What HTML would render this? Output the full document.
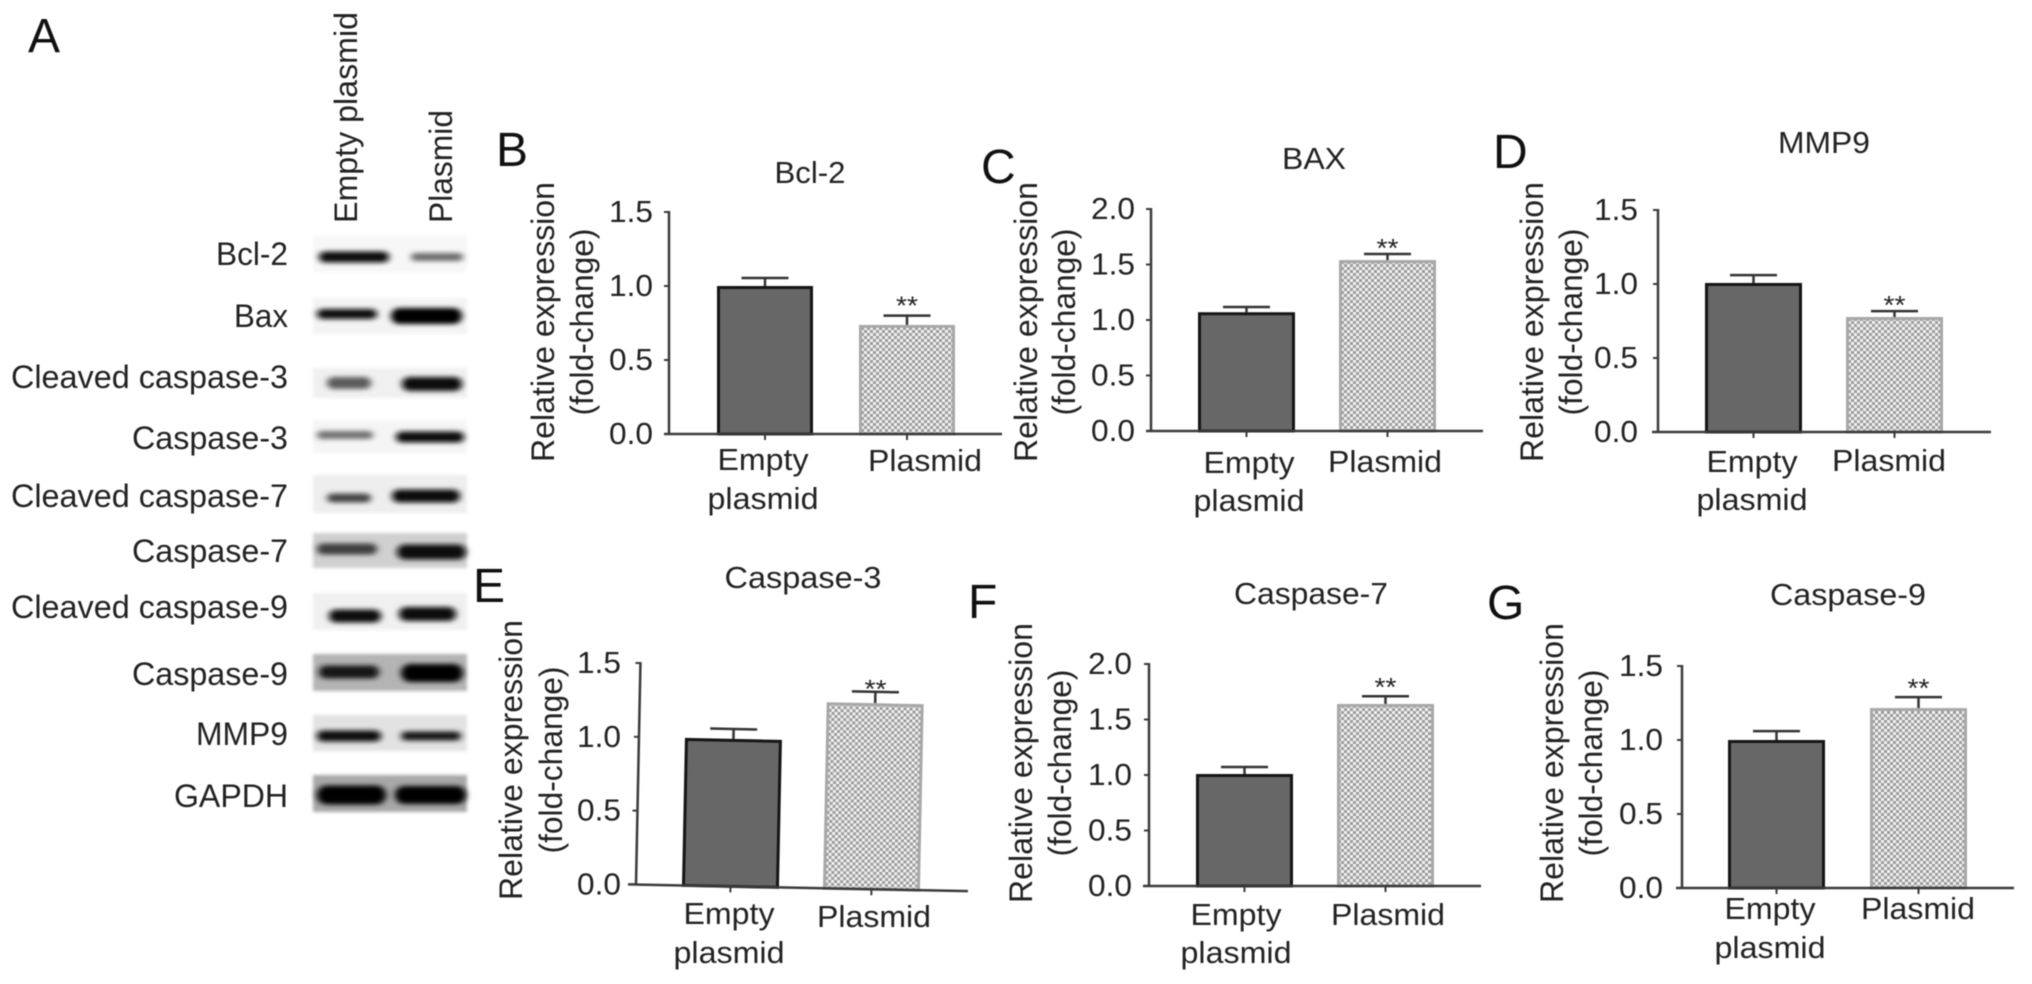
<!DOCTYPE html>
<html lang="en">
<head>
<meta charset="utf-8">
<title>Western blot and relative expression panels</title>
<style>
html,body{margin:0;padding:0;background:#fff;width:2032px;height:984px;overflow:hidden}
svg{display:block;filter:blur(0.55px)}
text{font-family:"Liberation Sans",Arial,sans-serif;fill:#222}
</style>
</head>
<body>
<svg id="fig" xmlns="http://www.w3.org/2000/svg" width="2032" height="984" viewBox="0 0 2032 984">
  <defs>
    <pattern id="checker" width="6" height="6" patternUnits="userSpaceOnUse">
      <rect width="6" height="6" fill="#f2f2f2"/>
      <rect width="3" height="3" fill="#9c9c9c"/>
      <rect x="3" y="3" width="3" height="3" fill="#9c9c9c"/>
    </pattern>
    <filter id="bandBlur" x="-30%" y="-200%" width="160%" height="500%"><feGaussianBlur stdDeviation="3.4 2.4"/></filter>
    <filter id="boxBlur" x="-5%" y="-20%" width="110%" height="140%"><feGaussianBlur stdDeviation="1.6"/></filter>
  </defs>
  <text x="28" y="52" font-size="48" style="fill:#111">A</text>
  <g id="blot"></g>
  <g id="charts"></g>
</svg>
<script>
// ---------- chart data ----------
const categories = ['Empty', 'Plasmid'];
const categorySecondLine = 'plasmid';
const chartTitles = ['Bcl-2', 'BAX', 'MMP9', 'Caspase-3', 'Caspase-7', 'Caspase-9'];
const panelLetters = ['B', 'C', 'D', 'E', 'F', 'G'];
const meanBcl2 = [1.0, 0.737];
const meanBax = [1.07, 1.54];
const meanMmp9 = [1.007, 0.777];
const meanCaspase3 = [0.999, 1.26];
const meanCaspase7 = [1.009, 1.64];
const meanCaspase9 = [1.0, 1.216];
const errorTopBcl2 = [1.054, 0.80];
const errorTopBax = [1.117, 1.595];
const errorTopMmp9 = [1.06, 0.817];
const errorTopCaspase3 = [1.066, 1.337];
const errorTopCaspase7 = [1.072, 1.71];
const errorTopCaspase9 = [1.06, 1.29];
const ticksTo15 = ['0.0', '0.5', '1.0', '1.5'];
const ticksTo20 = ['0.0', '0.5', '1.0', '1.5', '2.0'];
const significance = '**';
const yTitleLine1 = 'Relative expression';
const yTitleLine2 = '(fold-change)';
const allMeans = [meanBcl2, meanBax, meanMmp9, meanCaspase3, meanCaspase7, meanCaspase9];
const allErrorTops = [errorTopBcl2, errorTopBax, errorTopMmp9, errorTopCaspase3, errorTopCaspase7, errorTopCaspase9];
const allTicks = [ticksTo15, ticksTo20, ticksTo15, ticksTo15, ticksTo20, ticksTo15];

// ---------- panel layout ----------
const panelLayouts = [
  {lx:496, ly:166, ax:669, top:212, bot:434, xs:664, xe:1002, bx:717, step:142, bw:96, tx:810, ty:183, tw:71, y1:554, y2:593, ym:322, tr:653, c1:763, c2:925, cy1:470, cy2:471, c3y:509, sg:16, tilt:0},
  {lx:981, ly:183, ax:1151, top:209, bot:431, xs:1146, xe:1483, bx:1198, step:141, bw:97, tx:1314, ty:169, tw:64, y1:1037, y2:1075, ym:322, tr:1135, c1:1249, c2:1385, cy1:473, cy2:472, c3y:511, sg:12, tilt:0},
  {lx:1493, ly:168, ax:1658, top:210, bot:432, xs:1652, xe:1991, bx:1705, step:141, bw:97, tx:1824, ty:153, tw:92, y1:1543, y2:1582, ym:322, tr:1638, c1:1752, c2:1889, cy1:472, cy2:471, c3y:510, sg:12, tilt:0},
  {lx:473, ly:602, ax:636, top:663, bot:884.5, xs:628, xe:968, bx:682, step:141, bw:97, tx:803, ty:588, tw:157, y1:522, y2:562, ym:760, tr:621, c1:729, c2:874, cy1:924, cy2:927, c3y:963, sg:9, tilt:1.15},
  {lx:968, ly:618, ax:1149, top:664, bot:886, xs:1143, xe:1481, bx:1196, step:141, bw:97, tx:1311, ty:604, tw:154, y1:1032, y2:1071, ym:763, tr:1132, c1:1236, c2:1388, cy1:925, cy2:925, c3y:963, sg:15, tilt:0},
  {lx:1487, ly:619, ax:1682, top:666, bot:888, xs:1676, xe:2014, bx:1728, step:142, bw:97, tx:1848, ty:605, tw:156, y1:1563, y2:1602, ym:763, tr:1663, c1:1770, c2:1918, cy1:919, cy2:919, c3y:958, sg:15, tilt:0}
];

// ---------- helpers ----------
const NS = 'http://www.w3.org/2000/svg';
function make(tag, parent, attrs) {
  const node = document.createElementNS(NS, tag);
  for (const k in attrs) node.setAttribute(k, attrs[k]);
  parent.appendChild(node);
  return node;
}
function makeText(parent, str, x, y, size, anchor, width, rotated) {
  const attrs = {x: x, y: y, 'font-size': size, 'text-anchor': anchor};
  if (width) { attrs.textLength = width; attrs.lengthAdjust = 'spacingAndGlyphs'; }
  if (rotated) attrs.transform = 'rotate(-90 ' + x + ' ' + y + ')';
  const t = make('text', parent, attrs);
  t.textContent = str;
  return t;
}
function yScale(layout, ticks, value) {
  const max = parseFloat(ticks[ticks.length - 1]);
  return layout.bot - (value / max) * (layout.bot - layout.top);
}
function xBand(layout, index) {
  return layout.bx + index * layout.step;
}

// ---------- charts ----------
const chartsRoot = document.getElementById('charts');
panelLayouts.forEach(function (p, i) {
  const key = chartTitles[i].toLowerCase();
  const ticks = allTicks[i];
  const panel = make('g', chartsRoot, {});
  
  

  const letter = makeText(panel, panelLetters[i], p.lx, p.ly, 48, 'start');
  letter.setAttribute('style', 'fill:#111');
  
  

  const title = makeText(panel, chartTitles[i], p.tx, p.ty, 31, 'middle', p.tw);
  
  

  const yt1 = makeText(panel, yTitleLine1, p.y1, p.ym, 32, 'middle', 280, true);
  
  
  const yt2 = makeText(panel, yTitleLine2, p.y2, p.ym, 32, 'middle', 187, true);
  
  

  ticks.forEach(function (label) {
    const ty = yScale(p, ticks, parseFloat(label));
    const tl = makeText(panel, label, p.tr, ty + 10, 31, 'end', 44);
    
    
  });

  const c1 = makeText(panel, categories[0], p.c1, p.cy1, 31, 'middle', 91);
  
  
  const c3 = makeText(panel, categorySecondLine, p.c1, p.c3y, 31, 'middle', 111);
  
  
  const c2 = makeText(panel, categories[1], p.c2, p.cy2, 31, 'middle', 114);
  
  

  const marks = make('g', panel, {transform: 'rotate(' + p.tilt + ' ' + p.ax + ' ' + p.bot + ')'});
  
  

  categories.forEach(function (cat, j) {
    const left = xBand(p, j);
    const topY = yScale(p, ticks, allMeans[i][j]);
    const errY = yScale(p, ticks, allErrorTops[i][j]);
    const mid = left + p.bw / 2;

    const stem = make('line', marks, {x1: mid, x2: mid, y1: topY, y2: errY, stroke: '#333', 'stroke-width': 2.5});
    
    
    const cap = make('line', marks, {x1: mid - 23.5, x2: mid + 23.5, y1: errY, y2: errY, stroke: '#333', 'stroke-width': 2.5});
    
    

    const bar = make('rect', marks, {
      x: left + 1.5, y: topY + 1.5, width: p.bw - 3, height: p.bot - topY - 1.5,
      fill: j === 0 ? '#676767' : 'url(#checker)',
      stroke: j === 0 ? '#151515' : '#a8a8a8',
      'stroke-width': 3
    });
    
    

    const xt = make('line', marks, {x1: mid, x2: mid, y1: p.bot, y2: p.bot + 6, stroke: '#3a3a3a', 'stroke-width': 2});
    
    

    if (j === 1) {
      const stars = makeText(marks, significance, mid, errY - p.sg + 15, 26, 'middle', 22);
      
      
    }
  });

  ticks.forEach(function (label) {
    const ty = yScale(p, ticks, parseFloat(label));
    const tick = make('line', marks, {x1: p.ax - 5, x2: p.ax, y1: ty, y2: ty, stroke: '#3a3a3a', 'stroke-width': 2});
    
    
  });

  const yAxis = make('line', marks, {x1: p.ax, x2: p.ax, y1: p.top - 1, y2: p.bot, stroke: '#3a3a3a', 'stroke-width': 2.5});
  
  
  const xAxis = make('line', marks, {x1: p.xs, x2: p.xe, y1: p.bot, y2: p.bot, stroke: '#3a3a3a', 'stroke-width': 2.5});
  
  
});

// ---------- western blot ----------
const blotLabels = ['Bcl-2', 'Bax', 'Cleaved caspase-3', 'Caspase-3', 'Cleaved caspase-7', 'Caspase-7', 'Cleaved caspase-9', 'Caspase-9', 'MMP9', 'GAPDH'];
const blotRows = [
  {base:265, w:72,  y0:236, y1:272, bg:'#f7f7f7', a:[320,388,257,8,'#0c0c0c'], b:[412,462,257,5,'#6c6c6c']},
  {base:327, w:54,  y0:298, y1:334, bg:'#f3f3f3', a:[318,376,314,7,'#0c0c0c'], b:[392,461,316,13,'#000']},
  {base:388, w:277, y0:368, y1:398, bg:'#f0f0f0', a:[328,370,383,9,'#5c5c5c'], b:[403,461,384,11,'#0c0c0c']},
  {base:449, w:156, y0:420, y1:453, bg:'#f5f5f5', a:[318,372,435,5,'#707070'], b:[397,463,437,8,'#111']},
  {base:507, w:277, y0:475, y1:513, bg:'#eeeeee', a:[328,370,498,6,'#444'], b:[393,459,496,10,'#111']},
  {base:562, w:156, y0:533, y1:568, bg:'#d0d0d0', a:[318,376,549,8,'#3c3c3c'], b:[398,465,552,12,'#0a0a0a']},
  {base:618, w:277, y0:593, y1:630, bg:'#f0f0f0', a:[330,380,616,10,'#080808'], b:[400,455,614,11,'#080808']},
  {base:685, w:156, y0:654, y1:691, bg:'#b4b4b4', a:[320,378,672,10,'#161616'], b:[402,462,673,15,'#000']},
  {base:745, w:92,  y0:715, y1:751, bg:'#e2e2e2', a:[318,380,736,8,'#080808'], b:[402,460,736,6,'#161616']},
  {base:807, w:114, y0:775, y1:812, bg:'#a8a8a8', a:[318,385,795,16,'#000'], b:[396,465,795,15,'#000']}
];
const blotRoot = document.getElementById('blot');
const laneOne = makeText(blotRoot, 'Empty plasmid', 357, 223, 32, 'start', 211, true);


const laneTwo = makeText(blotRoot, 'Plasmid', 452, 223, 32, 'start', 113, true);



blotRows.forEach(function (r, i) {
  const slug = blotLabels[i].toLowerCase().replace(/ /g, '-');
  const label = makeText(blotRoot, blotLabels[i], 288, r.base, 32, 'end', r.w);
  
  

  const box = make('rect', blotRoot, {x: 313, y: r.y0, width: 154, height: r.y1 - r.y0, fill: r.bg, filter: 'url(#boxBlur)'});
  
  

  [r.a, r.b].forEach(function (b, k) {
    const h = b[3] + 3;
    const band = make('rect', blotRoot, {x: b[0] - 1, y: b[2] - h / 2, width: b[1] - b[0] + 2, height: h, rx: h / 2, fill: b[4], filter: 'url(#bandBlur)'});
    
    
  });
});
</script>
</body>
</html>
